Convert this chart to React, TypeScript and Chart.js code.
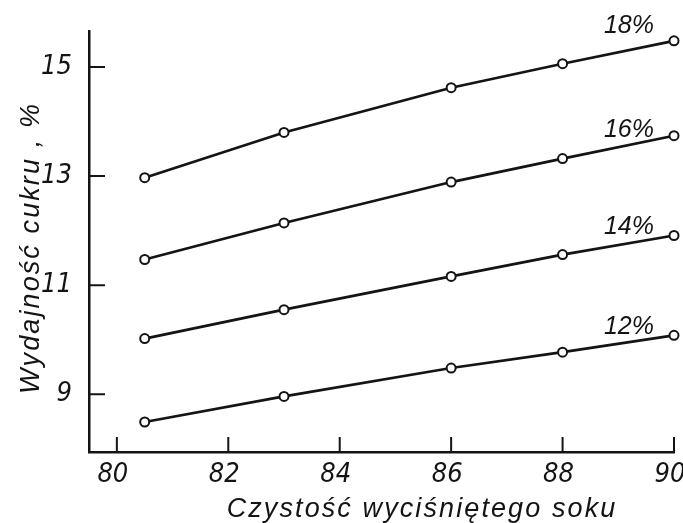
import { useEffect, useRef } from "react";
import { Chart, registerables } from "chart.js";

Chart.register(...registerables);

// Juice purity (x) against sugar yield (y), one curve per sugar content
const purity = [80.5, 83, 86, 88, 90];
const yield12 = [8.49, 8.96, 9.48, 9.77, 10.08];
const yield14 = [10.02, 10.55, 11.16, 11.56, 11.91];
const yield16 = [11.47, 12.14, 12.89, 13.32, 13.74];
const yield18 = [12.97, 13.8, 14.62, 15.06, 15.48];
const seriesNames = ["12%", "14%", "16%", "18%"];

const xTicks = [80, 82, 84, 86, 88, 90];
const yTicks = [9, 11, 13, 15];
const xTitle = "Czystość wyciśniętego soku";
const yTitle = "Wydajność cukru , %";

const INK = "#141414";
const NARROW = "'DejaVu Sans Condensed', 'DejaVu Sans', sans-serif";
const WIDE = "'Liberation Sans', 'DejaVu Sans', sans-serif";

// how far each curve label sits above its last point
const labelLift = [1, 2, -1, 8];

const decorations = {
  id: "decorations",
  afterDraw(chart: any) {
    const { ctx, chartArea, scales } = chart;
    const xs = scales.x;
    const ys = scales.y;
    ctx.save();

    // inward tick marks
    ctx.strokeStyle = INK;
    ctx.lineWidth = 2;
    ctx.beginPath();
    xs.ticks.forEach((t: any) => {
      const px = xs.getPixelForValue(t.value);
      ctx.moveTo(px, chartArea.bottom);
      ctx.lineTo(px, chartArea.bottom - 15);
    });
    ys.ticks.forEach((t: any) => {
      const py = ys.getPixelForValue(t.value);
      ctx.moveTo(chartArea.left, py);
      ctx.lineTo(chartArea.left + 16, py);
    });
    ctx.stroke();

    // curve labels at the right-hand end of each line
    ctx.fillStyle = INK;
    ctx.font = `italic 25px ${WIDE}`;
    ctx.textAlign = "right";
    ctx.textBaseline = "alphabetic";
    chart.data.datasets.forEach((ds: any, i: number) => {
      const pts = chart.getDatasetMeta(i).data;
      const last = pts[pts.length - 1];
      ctx.fillText(ds.label, last.x - 20, last.y - labelLift[i]);
    });

    // axis titles, spaced lettering
    ctx.font = `italic 27px ${WIDE}`;
    (ctx as any).letterSpacing = "2.1px";
    ctx.textAlign = "center";
    ctx.textBaseline = "alphabetic";
    ctx.fillText(xTitle, 422, 517);

    ctx.translate(39, 248);
    ctx.rotate(-Math.PI / 2);
    ctx.fillText(yTitle, 0, 0);
    ctx.restore();
  },
};

export default function App() {
  const canvasRef = useRef<HTMLCanvasElement | null>(null);

  useEffect(() => {
    const canvas = canvasRef.current;
    if (!canvas) return;

    const series = [yield12, yield14, yield16, yield18];
    const chart = new Chart(canvas, {
      type: "line",
      data: {
        datasets: series.map((vals, i) => ({
          label: seriesNames[i],
          data: purity.map((x, j) => ({ x, y: vals[j] })),
          borderColor: INK,
          borderWidth: 2.7,
          pointRadius: 4.5,
          pointBorderWidth: 2,
          pointBackgroundColor: "#ffffff",
          pointBorderColor: INK,
          tension: 0,
          clip: false,
        })),
      },
      options: {
        responsive: false,
        animation: false,
        devicePixelRatio: 1,
        layout: { padding: { left: 0, right: 9, top: 31, bottom: 0 } },
        plugins: {
          legend: { display: false },
          tooltip: { enabled: false },
        },
        scales: {
          x: {
            type: "linear",
            min: 79.5,
            max: 90,
            grid: { display: false, drawTicks: false },
            border: { display: true, color: INK, width: 2.5 },
            afterBuildTicks: (s: any) => {
              s.ticks = xTicks.map((v) => ({ value: v }));
            },
            afterFit: (s: any) => {
              s.height = 71;
              s.paddingLeft = 0;
              s.paddingRight = 0;
            },
            ticks: {
              color: INK,
              padding: 7,
              labelOffset: -4,
              maxRotation: 0,
              autoSkip: false,
              font: { family: NARROW, size: 27, style: "italic" },
            },
          },
          y: {
            type: "linear",
            min: 7.94,
            max: 15.66,
            grid: { display: false, drawTicks: false },
            border: { display: true, color: INK, width: 2.5 },
            afterBuildTicks: (s: any) => {
              s.ticks = yTicks.map((v) => ({ value: v }));
            },
            afterFit: (s: any) => {
              s.width = 89;
              s.paddingTop = 0;
              s.paddingBottom = 0;
            },
            ticks: {
              color: INK,
              padding: 17,
              autoSkip: false,
              font: { family: NARROW, size: 27, style: "italic" },
            },
          },
        },
      },
      plugins: [decorations],
    } as any);

    return () => chart.destroy();
  }, []);

  return (
    <div style={{ position: "fixed", left: 0, top: 0, width: 683, height: 523, background: "#fff" }}>
      <canvas ref={canvasRef} width={683} height={523} />
    </div>
  );
}
